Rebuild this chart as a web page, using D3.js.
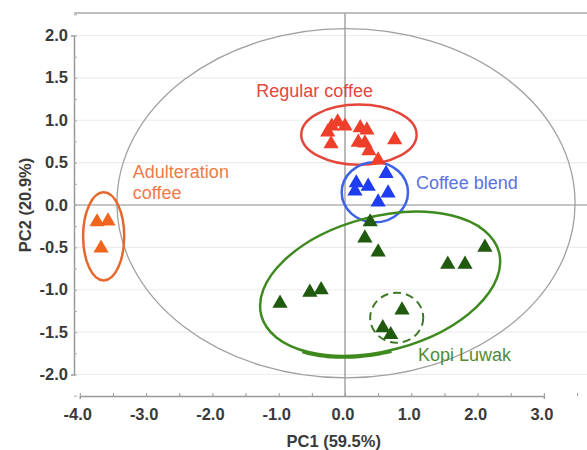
<!DOCTYPE html>
<html>
<head>
<meta charset="utf-8">
<script src="https://cdn.jsdelivr.net/npm/d3@7"></script>
<style>
    body { margin: 0; background: #fff; }
    #chart-area { width: 587px; height: 450px; }
    text { font-family: "Liberation Sans", Arial, Helvetica, sans-serif; }
</style>
</head>
<body>
<div id="chart-area"></div>
<script>

// Score plot data: [PC1, PC2] per sample
let regularCoffee = [
    [-0.20, 0.93], [-0.11, 0.98], [0.00, 0.93], [-0.26, 0.86], [-0.21, 0.72],
    [0.23, 0.91], [0.33, 0.885], [0.20, 0.74], [0.30, 0.73], [0.36, 0.64],
    [0.50, 0.53], [0.75, 0.77]
];
let coffeeBlend = [
    [0.17, 0.26], [0.35, 0.22], [0.62, 0.37], [0.15, 0.165], [0.65, 0.14], [0.50, 0.035]
];
let adulterationCoffee = [
    [-3.74, -0.20], [-3.575, -0.19], [-3.68, -0.51]
];
let kopiLuwak = [
    [0.38, -0.20], [0.30, -0.39], [0.50, -0.555], [1.55, -0.70], [1.81, -0.70], [2.11, -0.50],
    [-0.98, -1.16], [-0.53, -1.03], [-0.36, -1.00], [0.86, -1.24], [0.57, -1.45], [0.69, -1.53]
];

let xTicks = [-4, -3, -2, -1, 0, 1, 2, 3];
let yTicks = [2, 1.5, 1, 0.5, 0, -0.5, -1, -1.5, -2];

// confidence ellipses: centre, radii (data units), rotation (deg on screen)
let groupEllipses = [
    {name: "regular", cx: 0.21, cy: 0.83, rx: 0.87, ry: 0.355, angle: 0},
    {name: "blend", cx: 0.45, cy: 0.15, rx: 0.5, ry: 0.355, angle: 0},
    {name: "adulteration", cx: -3.64, cy: -0.37, rx: 0.31, ry: 0.52, angle: 0},
    {name: "kopi", cx: 0.53, cy: -0.93, rx: 1.855, ry: 0.79, angle: -15}
];


class ScoreVis {
    constructor(parentElement) {
        this.parentElement = parentElement;
        this.initVis();
    }

    initVis() {
        let vis = this;

        vis.margin = {top: 13, right: 0, bottom: 54, left: 74};
        vis.width = 587 - vis.margin.left - vis.margin.right;
        vis.height = 450 - vis.margin.top - vis.margin.bottom;

        vis.svg = d3.select("#" + vis.parentElement).append("svg")
            .attr("width", 587)
            .attr("height", 450)
            .append("g")
            .attr("transform", `translate(${vis.margin.left}, ${vis.margin.top})`);

        // x: 0 at px 345, 66.3 px per unit ; y: 0 at px 205, 84.75 px per unit
        vis.x = d3.scaleLinear()
            .domain([-4, 3])
            .range([79.8 - vis.margin.left, 543.9 - vis.margin.left]);

        vis.y = d3.scaleLinear()
            .domain([-2, 2])
            .range([374.5 - vis.margin.top, 35.5 - vis.margin.top]);

        vis.updateVis();
    }

    updateVis() {
        let vis = this;

        // horizontal grid
        vis.svg.selectAll(".grid")
            .data(yTicks.filter(d => d !== 0))
            .enter().append("line")
            .attr("class", "grid")
            .attr("x1", 0).attr("x2", vis.width)
            .attr("y1", d => vis.y(d)).attr("y2", d => vis.y(d))
            .attr("stroke", "#ececec")
            .attr("stroke-width", 1.2);

        // zero lines
        vis.svg.append("line")
            .attr("x1", 0).attr("x2", vis.width)
            .attr("y1", vis.y(0)).attr("y2", vis.y(0))
            .attr("stroke", "#8c8c8c").attr("stroke-width", 1.2);
        vis.svg.append("line")
            .attr("x1", vis.x(0)).attr("x2", vis.x(0))
            .attr("y1", 0).attr("y2", vis.height)
            .attr("stroke", "#8c8c8c").attr("stroke-width", 1.2);

        // top border
        vis.svg.append("line")
            .attr("x1", 0).attr("x2", vis.width)
            .attr("y1", 0).attr("y2", 0)
            .attr("stroke", "#a8a8a8").attr("stroke-width", 1.5);

        // axes
        let xAxis = d3.axisBottom(vis.x)
            .tickValues(d3.range(-4, 3.6, 0.5))
            .tickSize(3)
            .tickFormat("");
        vis.svg.append("g")
            .attr("transform", `translate(0, ${vis.height})`)
            .call(xAxis)
            .call(g => g.select(".domain").attr("stroke", "#999").attr("stroke-width", 1.5))
            .call(g => g.selectAll(".tick line").attr("stroke", "#999").attr("transform", "translate(0,-3)"));

        let yAxis = d3.axisLeft(vis.y)
            .tickValues(d3.range(-2.25, 2.3, 0.25))
            .tickSize(3)
            .tickFormat("");
        vis.svg.append("g")
            .call(yAxis)
            .call(g => g.select(".domain").attr("stroke", "#999").attr("stroke-width", 1.5))
            .call(g => g.selectAll(".tick line").attr("stroke", "#aaa").attr("transform", "translate(3,0)"));

        // tick labels
        vis.svg.selectAll(".x-label")
            .data(xTicks)
            .enter().append("text")
            .attr("class", "x-label")
            .attr("x", d => vis.x(d) - 2)
            .attr("y", vis.height + 24)
            .attr("text-anchor", "middle")
            .attr("font-size", 16.5)
            .attr("font-weight", "bold")
            .attr("fill", "#3a3a3a")
            .text(d => d.toFixed(1));

        vis.svg.selectAll(".y-label")
            .data(yTicks)
            .enter().append("text")
            .attr("class", "y-label")
            .attr("x", -6)
            .attr("y", d => vis.y(d) + 5.5)
            .attr("text-anchor", "end")
            .attr("font-size", 16.5)
            .attr("font-weight", "bold")
            .attr("fill", "#3a3a3a")
            .text(d => d.toFixed(1));

        // axis titles
        vis.svg.append("text")
            .attr("x", vis.x(-0.17))
            .attr("y", vis.height + 51)
            .attr("text-anchor", "middle")
            .attr("font-size", 16.5)
            .attr("font-weight", "bold")
            .attr("fill", "#3a3a3a")
            .text("PC1 (59.5%)");

        vis.svg.append("text")
            .attr("transform", `translate(${31 - vis.margin.left}, ${vis.y(0)}) rotate(-90)`)
            .attr("text-anchor", "middle")
            .attr("font-size", 16.5)
            .attr("font-weight", "bold")
            .attr("fill", "#3a3a3a")
            .text("PC2 (20.9%)");

        // Hotelling ellipse
        vis.svg.append("ellipse")
            .attr("cx", vis.x(0.015))
            .attr("cy", vis.y(0.02))
            .attr("rx", vis.x(3.455) - vis.x(0))
            .attr("ry", vis.y(0) - vis.y(2.06))
            .attr("fill", "none")
            .attr("stroke", "#a0a0a0")
            .attr("stroke-width", 1.3);

        let ellipseColors = {regular: "#e5463a", blend: "#3d63e6", adulteration: "#e4682e", kopi: "#3e8a1f"};

        groupEllipses.forEach(e => {
            let cx = vis.x(e.cx), cy = vis.y(e.cy);
            vis.svg.append("ellipse")
                .attr("cx", cx)
                .attr("cy", cy)
                .attr("rx", vis.x(e.cx + e.rx) - cx)
                .attr("ry", cy - vis.y(e.cy + e.ry))
                .attr("transform", `rotate(${e.angle}, ${cx}, ${cy})`)
                .attr("fill", "none")
                .attr("stroke", ellipseColors[e.name])
                .attr("stroke-width", 2.5);
        });

        // thick overlap at the bottom of the hand drawn green ring
        let kopi = groupEllipses[3];
        let kcx = vis.x(kopi.cx), kcy = vis.y(kopi.cy);
        let krx = vis.x(kopi.cx + kopi.rx) - kcx;
        let kry = kcy - vis.y(kopi.cy + kopi.ry);
        let rot = kopi.angle * Math.PI / 180;
        vis.svg.append("path")
            .attr("d", d3.line().curve(d3.curveBasis)(d3.range(0.05, 0.86, 0.05).map(t => {
                let a = Math.PI / 2 + t;
                let ex = krx * Math.cos(a);
                let ey = kry * Math.sin(a);
                return [kcx + ex * Math.cos(rot) - ey * Math.sin(rot), kcy + ex * Math.sin(rot) + ey * Math.cos(rot) + 1.5];
            })))
            .attr("fill", "none")
            .attr("stroke", ellipseColors.kopi)
            .attr("stroke-width", 3);

        // dashed sub-group circle
        vis.svg.append("ellipse")
            .attr("cx", vis.x(0.78))
            .attr("cy", vis.y(-1.33))
            .attr("rx", vis.x(1.18) - vis.x(0.78))
            .attr("ry", vis.y(-1.33) - vis.y(-1.035))
            .attr("fill", "none")
            .attr("stroke", "#3e7a24")
            .attr("stroke-width", 2)
            .attr("stroke-dasharray", "8,5");

        // points
        let tri = d3.symbol().type(d3.symbolTriangle).size(100);
        let series = [
            {data: regularCoffee, color: "#ee3f2a"},
            {data: coffeeBlend, color: "#1f3df0"},
            {data: adulterationCoffee, color: "#f0641e"},
            {data: kopiLuwak, color: "#1f5a0e"}
        ];
        series.forEach(s => {
            vis.svg.append("g").selectAll("path")
                .data(s.data)
                .enter().append("path")
                .attr("d", tri)
                .attr("transform", d => `translate(${vis.x(d[0])}, ${vis.y(d[1])})`)
                .attr("fill", s.color);
        });

        // group labels
        let labels = [
            {lines: ["Regular coffee"], x: -1.34, y: 1.27, color: "#e5483e"},
            {lines: ["Adulteration", "coffee"], x: -3.2, y: 0.32, color: "#ef7a48"},
            {lines: ["Coffee blend"], x: 1.07, y: 0.19, color: "#5a72e2"},
            {lines: ["Kopi Luwak"], x: 1.1, y: -1.84, color: "#4f8c34"}
        ];
        labels.forEach(l => {
            let t = vis.svg.append("text")
                .attr("x", vis.x(l.x))
                .attr("y", vis.y(l.y))
                .attr("font-size", 18)
                .attr("fill", l.color);
            l.lines.forEach((line, i) => {
                t.append("tspan")
                    .attr("x", vis.x(l.x))
                    .attr("dy", i === 0 ? 0 : 21)
                    .text(line);
            });
        });
    }
}

new ScoreVis("chart-area");
</script>
</body>
</html>
